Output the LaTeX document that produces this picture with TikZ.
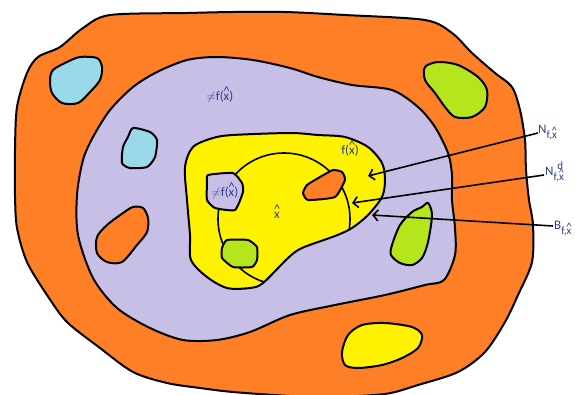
\documentclass[tikz,border=0pt]{standalone}
\usepackage{fontspec}
\setmainfont{Carlito}
\usetikzlibrary{arrows.meta}
\definecolor{porange}{RGB}{255,127,39}
\definecolor{plav}{RGB}{200,191,231}
\definecolor{pcyan}{RGB}{153,217,234}
\definecolor{plime}{RGB}{181,230,29}
\definecolor{pyellow}{RGB}{255,242,0}
\definecolor{txtblue}{RGB}{45,62,140}
\newcommand\hx{\ooalign{x\cr\hidewidth\raisebox{0.36em}{\textasciicircum}\hidewidth\cr}}
\newcommand\nf{\ensuremath{\neq}}
\newcommand\lowsub[1]{\raisebox{-0.45em}{\fontsize{11}{12}\selectfont #1}}
\newcommand\hisup[1]{\rlap{\raisebox{0.45em}{\fontsize{11}{12}\selectfont\hspace{0.35em}#1}}}
\tikzset{
  region/.style={draw=black,line width=2pt,line join=round},
  lbl/.style={text=txtblue,font=\fontsize{13}{15}\selectfont,inner sep=0pt},
  side/.style={text=txtblue,font=\fontsize{13}{15}\selectfont,inner sep=0pt,anchor=base west},
  pointer/.style={draw=black,line width=1.6pt,-{Straight Barb[length=5pt,width=11pt]}},
}
\begin{document}
\begin{tikzpicture}[x=1pt,y=-1pt]
\useasboundingbox (0,0) rectangle (575,394);
% outer orange
\filldraw[region,fill=porange] plot[smooth cycle,tension=0.5] coordinates{
 (110,15)(187,13)(233,12)(285,12)(345,15)(425,20)(452,33)(472,53)(495,73)(512,87)
 (520,110)(525,140)(526,170)(529,200)(533,225)(532,262)(518,295)(505,322)(485,352)
 (458,372)(418,385)(385,394)(330,397)(290,396)(233,392)(200,388)(167,383)(133,372)
 (100,348)(67,322)(47,295)(27,262)(17,228)(15,195)(15,150)(17,107)(27,73)(38,57)(60,47)(83,28)};
% blobs in orange
\filldraw[region,fill=pcyan] plot[smooth cycle,tension=0.5] coordinates{
 (53,70)(67,62)(80,57)(97,58)(102,67)(100,80)(90,92)(78,103)(62,103)(52,93)(50,80)};
\filldraw[region,fill=plime] plot[smooth cycle,tension=0.5] coordinates{
 (425,67)(438,62)(458,65)(478,77)(487,90)(485,107)(472,117)(455,117)(445,107)(435,93)(425,80)};
\filldraw[region,fill=pyellow] plot[smooth cycle,tension=0.5] coordinates{
 (362,325)(385,323)(412,327)(422,335)(418,348)(402,358)(382,365)(358,368)(345,365)(342,352)(348,335)};
% lavender
\filldraw[region,fill=plav] plot[smooth cycle,tension=0.5] coordinates{
 (187,60)(217,57)(253,60)(290,68)(318,77)(352,85)(392,90)(418,107)(435,127)(448,153)
 (452,175)(452,200)(455,228)(455,255)(444,280)(425,285)(385,295)(335,305)(290,315)
 (250,332)(217,340)(183,340)(150,328)(117,308)(93,278)(78,235)(77,195)(83,160)
 (93,137)(110,110)(133,87)(157,72)};
% blobs in lavender
\filldraw[region,fill=pcyan] plot[smooth cycle,tension=0.4] coordinates{
 (133,128)(150,132)(157,140)(155,157)(147,167)(130,168)(122,163)(123,147)(128,137)};
\filldraw[region,fill=porange] plot[smooth cycle,tension=0.5] coordinates{
 (133,207)(143,208)(148,218)(147,232)(137,245)(122,262)(107,262)(97,253)(97,237)(107,225)(123,213)};
\filldraw[region,fill=plime] plot[smooth cycle,tension=0.5] coordinates{
 (428,203)(432,215)(428,242)(422,258)(412,265)(400,263)(391,255)(392,245)(400,225)(412,212)(422,207)};
% yellow
\filldraw[region,fill=pyellow] plot[smooth cycle,tension=0.5] coordinates{
 (193,147)(213,138)(233,135)(290,133)(318,135)(345,137)(368,147)(382,163)(385,180)
 (382,197)(368,215)(352,228)(335,236)(302,248)(288,258)(263,283)(250,288)(227,288)
 (207,277)(191,260)(190,235)(187,200)(185,167)};
\begin{scope}
 \clip plot[smooth cycle,tension=0.5] coordinates{
 (193,147)(213,138)(233,135)(290,133)(318,135)(345,137)(368,147)(382,163)(385,180)
 (382,197)(368,215)(352,228)(335,236)(302,248)(288,258)(263,283)(250,288)(227,288)
 (207,277)(191,260)(190,235)(187,200)(185,167)};
 \coordinate (ctr) at (284,219);
 \draw[line width=1.6pt] (ctr) circle[radius=66];
\end{scope}
% blobs in yellow
\filldraw[region,fill=plav] plot[smooth cycle,tension=0.3] coordinates{
 (208,175)(233,173)(242,183)(243,192)(235,210)(215,208)(207,200)(207,183)};
\filldraw[region,fill=plime] plot[smooth cycle,tension=0.3] coordinates{
 (227,240)(248,240)(257,247)(257,260)(252,267)(233,267)(222,258)(222,248)};
\filldraw[region,fill=porange] plot[smooth cycle,tension=0.3] coordinates{
 (307,185)(320,177)(333,170)(342,172)(345,180)(335,197)(308,200)(303,193)};
% labels
\node[lbl,anchor=base] (notf1) at (220,100) {\nf f(\hx)};
\node[lbl,anchor=base] (notf2) at (225,196) {\nf f(\hx)};
\node[lbl,anchor=base] (fx) at (350,154) {f(\hx)};
\node[lbl,anchor=base] (xh) at (277,218) {\hx};
\node[side] (labN) at (538,133) {N\lowsub{f,\hx}};
\node[side] (labNd) at (545,175) {N\hisup{d}\lowsub{f,\hx}};
\node[side] (labB) at (554,229) {B\lowsub{f,\hx}};
\coordinate (tipN) at (368,176);
\coordinate (tipNd) at (352,203);
\coordinate (tipB) at (372,215);
\draw[pointer] (labN.base west) -- (tipN);
\draw[pointer] ([xshift=-1pt]labNd.base west) -- (tipNd);
\draw[pointer] ([xshift=-1pt,yshift=3pt]labB.base west) -- (tipB);
\end{tikzpicture}
\end{document}
